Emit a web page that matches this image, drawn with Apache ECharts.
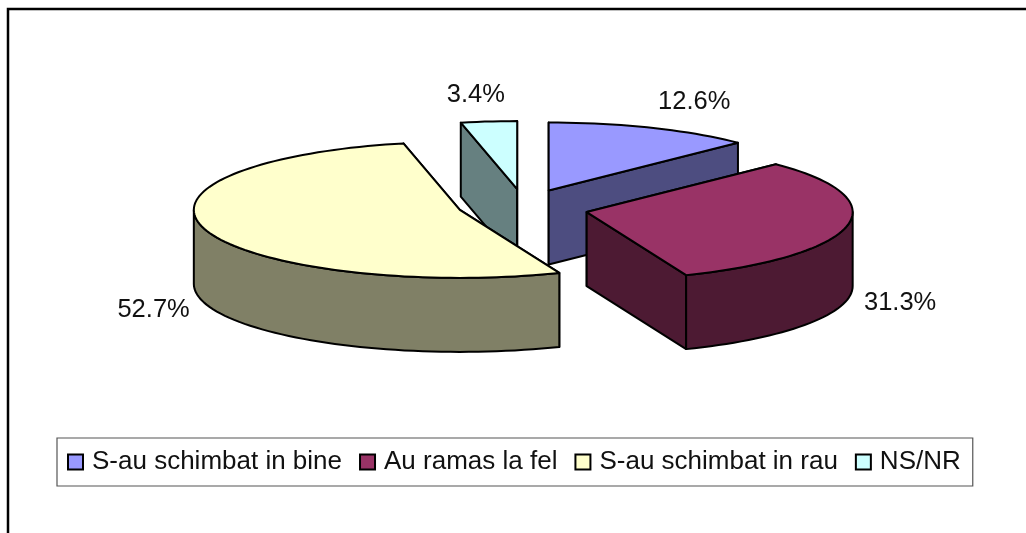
<!DOCTYPE html>
<html><head><meta charset="utf-8">
<style>html,body{margin:0;padding:0;background:#fff}#c{width:1026px;height:533px}</style>
<script src="https://cdn.jsdelivr.net/npm/echarts@6/dist/echarts.min.js"></script>
</head><body><div id="c"></div>
<script>
const categories = ['S-au schimbat in bine', 'Au ramas la fel', 'S-au schimbat in rau', 'NS/NR'];
const values = [12.6, 31.3, 52.7, 3.4];
const topColors = ['#9999FF', '#993366', '#FFFFCC', '#CCFFFF'];
const sideColors = ['#4D4D80', '#4D1A33', '#808066', '#668080'];
const paintOrder = [2, 3, 4, 1];
const labelOffsets = [[43, -26], [53, 77], [-52, 80], [-13, -27]];
const explodeNudge = [[0, 1], [0, 0], [-3, -4], [0, 1]];

const CX = 524, CY = 208, RX = 266, RY = 68, DEPTH = 74, EX = 64, EY = 20;
const LINE = { stroke: '#000', lineWidth: 2, lineJoin: 'round' };
const total = values.reduce((a, b) => a + b, 0);
const startAngles = values.map((v, i) => values.slice(0, i).reduce((a, b) => a + b, 0) / total * 360);

function rad(d) { return d * Math.PI / 180; }
function renderSlice(i) {
  return function () {
    const a0 = startAngles[i], a1 = a0 + values[i] / total * 360, mid = (a0 + a1) / 2;
    const ox = CX + EX * Math.sin(rad(mid)) + explodeNudge[i][0];
    const oy = CY - EY * Math.cos(rad(mid)) + explodeNudge[i][1];
    const rim = a => [ox + RX * Math.sin(rad(a)), oy - RY * Math.cos(rad(a))];
    const down = p => [p[0], p[1] + DEPTH];
    const arc = (s, e) => { const pts = []; const n = Math.max(2, Math.ceil(Math.abs(e - s) / 2)); for (let k = 0; k <= n; k++) pts.push(rim(s + (e - s) * k / n)); return pts; };
    const poly = (points, fill, z2) => ({ type: 'polygon', z2, shape: { points }, style: Object.assign({ fill }, LINE) });
    const apex = [ox, oy];
    const children = [];
    [a0, a1].forEach(a => {
      const p = rim(a);
      children.push(poly([apex, p, down(p), down(apex)], sideColors[i], 1));
    });
    const w0 = Math.max(a0, 90), w1 = Math.min(a1, 270);
    if (w1 > w0) {
      const pts = arc(w0, w1);
      children.push(poly(pts.concat(pts.map(down).reverse()), sideColors[i], 2));
    }
    children.push(poly([apex].concat(arc(a0, a1)), topColors[i], 3));
    const m = rim(mid);
    children.push({
      type: 'text', z2: 4,
      style: { x: m[0] + labelOffsets[i][0], y: m[1] + labelOffsets[i][1], text: values[i].toFixed(1) + '%', fill: '#111', font: '25.5px "Liberation Sans", Arial, sans-serif', align: 'center', verticalAlign: 'middle' }
    });
    return { type: 'group', children };
  };
}

const chart = echarts.init(document.getElementById('c'), null, { renderer: 'canvas' });
chart.setOption({
  animation: false,
  backgroundColor: '#fff',
  graphic: [{ type: 'polyline', z: 10, shape: { points: [[8, 533], [8, 9], [1026, 9]] }, style: { stroke: '#000', lineWidth: 2.5, fill: null } }],
  legend: {
    left: 57, top: 438, orient: 'horizontal', icon: 'rect',
    data: categories, itemWidth: 15, itemHeight: 15, itemGap: 17, padding: [11, 12, 11, 10],
    borderColor: '#555', borderWidth: 1.2, selectedMode: false,
    itemStyle: { borderColor: '#000', borderWidth: 2 },
    textStyle: { fontFamily: '"Liberation Sans", Arial, sans-serif', fontSize: 26, color: '#111', padding: [0, 0, 0, 4] }
  },
  series: categories.map((name, i) => ({
    type: 'custom', name, coordinateSystem: 'none', z: paintOrder[i],
    itemStyle: { color: topColors[i] },
    data: [values[i]], renderItem: renderSlice(i)
  }))
});
</script></body></html>
